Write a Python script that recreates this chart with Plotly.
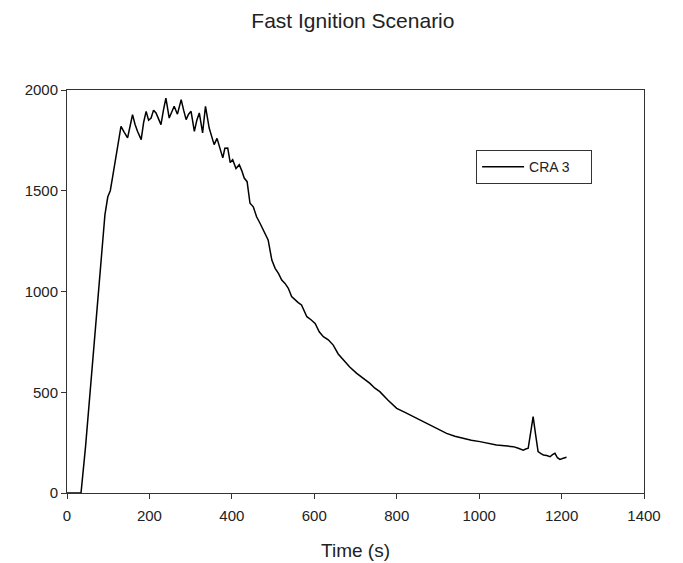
import plotly.graph_objects as go

time_s = [0, 34, 45, 56, 66, 75, 84, 92, 99, 105, 111, 117, 123, 131, 139, 147, 153, 159, 165, 171, 180,
          186, 192, 198, 204, 210, 216, 222, 228, 234, 240, 248, 254, 260, 268, 277, 283, 289, 295, 301,
          309, 315, 321, 329, 336, 345, 351, 357, 364, 370, 378, 383, 390, 396, 402, 410, 418, 424, 430,
          437, 444, 452, 460, 468, 476, 482, 488, 497, 505, 513, 521, 529, 537, 545, 553, 561, 569, 576,
          582, 592, 602, 612, 622, 634, 646, 658, 670, 686, 703, 719, 735, 747, 759, 779, 800, 820, 840,
          860, 881, 901, 921, 941, 961, 981, 1002, 1022, 1042, 1062, 1083, 1095, 1107, 1113, 1119, 1125,
          1131, 1137, 1143, 1150, 1156, 1164, 1172, 1178, 1184, 1190, 1196, 1204, 1212]
temperature = [0, 0, 230, 500, 760, 1000, 1200, 1380, 1470, 1500, 1572, 1650, 1712, 1820, 1790, 1762,
               1820, 1878, 1830, 1795, 1754, 1840, 1894, 1850, 1861, 1900, 1886, 1860, 1828, 1900, 1960,
               1861, 1890, 1919, 1880, 1952, 1900, 1853, 1880, 1894, 1795, 1850, 1886, 1787, 1919, 1811,
               1770, 1729, 1760, 1721, 1663, 1711, 1712, 1640, 1654, 1610, 1629, 1600, 1563, 1545, 1438,
               1420, 1371, 1340, 1305, 1280, 1256, 1156, 1115, 1090, 1057, 1040, 1016, 975, 958, 945, 933,
               900, 875, 860, 842, 800, 776, 760, 734, 690, 660, 625, 594, 570, 544, 520, 503, 460, 420,
               400, 379, 360, 337, 315, 296, 282, 271, 262, 255, 246, 238, 234, 230, 222, 213, 218, 222,
               300, 379, 290, 205, 195, 189, 186, 180, 190, 197, 175, 167, 172, 177]

FONT = "Liberation Sans, Arial"

fig = go.Figure()
fig.add_trace(go.Scatter(
    x=time_s, y=temperature, mode="lines", name="CRA 3\u00a0\u00a0\u00a0\u00a0",
    line=dict(color="black", width=1.5),
))

axis_common = dict(
    showline=True, linecolor="#333333", linewidth=1, mirror=True,
    ticks="outside", ticklen=5, tickcolor="#333333",
    showgrid=False, zeroline=False,
    tickfont=dict(family=FONT, size=15, color="#222222"),
)

fig.update_layout(
    width=683, height=563,
    margin=dict(l=59, r=47, t=82, b=78),
    paper_bgcolor="white", plot_bgcolor="white",
    title=dict(text="Fast Ignition Scenario", x=0.505, xanchor="center", y=0.978, yanchor="middle",
               font=dict(family=FONT, size=21, color="#222222")),
    xaxis=dict(range=[0, 1400], tickmode="array", tickvals=[0, 200, 400, 600, 800, 1000, 1200, 1400],
               ticklabelstandoff=4,
               title=dict(text="Time (s)", standoff=20,
                          font=dict(family=FONT, size=19, color="#222222")),
               **axis_common),
    yaxis=dict(range=[0, 2000], tickmode="array", tickvals=[0, 500, 1000, 1500, 2000], **axis_common),
    showlegend=True,
    legend=dict(x=0.709, y=0.851, xanchor="left", yanchor="top", itemwidth=42,
                bordercolor="#333333", borderwidth=1, bgcolor="white",
                font=dict(family=FONT, size=14, color="#222222")),
)

fig.write_html("out.html")
